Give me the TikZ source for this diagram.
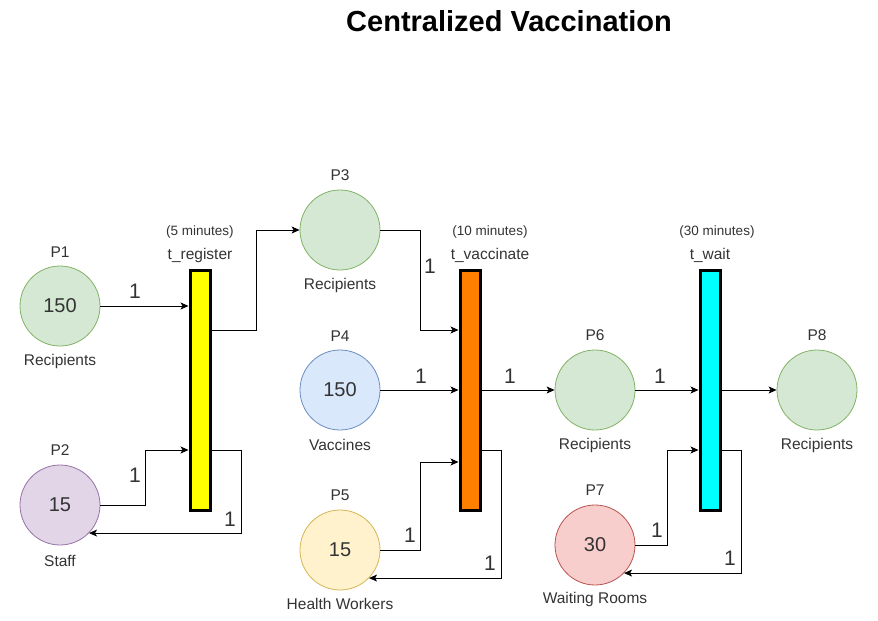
\documentclass[tikz,border=0pt]{standalone}
\usepackage{fontspec}
\setmainfont{Liberation Sans}
\usetikzlibrary{arrows.meta}

\definecolor{grnfill}{HTML}{D5E8D4}
\definecolor{grnline}{HTML}{82B366}
\definecolor{purfill}{HTML}{E1D5E7}
\definecolor{purline}{HTML}{9673A6}
\definecolor{blufill}{HTML}{DAE8FC}
\definecolor{bluline}{HTML}{6C8EBF}
\definecolor{ylwfill}{HTML}{FFF2CC}
\definecolor{ylwline}{HTML}{D6B656}
\definecolor{redfill}{HTML}{F8CECC}
\definecolor{redline}{HTML}{B85450}
\definecolor{txtgray}{HTML}{333333}
\definecolor{regfill}{HTML}{FFFF00}
\definecolor{vacfill}{HTML}{FF8000}
\definecolor{waitfill}{HTML}{00FFFF}

\begin{document}
\begin{tikzpicture}[x=1pt, y=-1pt,
    place/.style={circle, draw, line width=0.8pt, minimum size=80pt, inner sep=0pt,
      text=txtgray, font=\fontsize{20}{24}\selectfont},
    trans/.style={rectangle, draw=black, line width=3pt, minimum width=20pt,
      minimum height=240pt, inner sep=0pt},
    lbl/.style={text=txtgray, inner sep=0pt, font=\fontsize{15.5}{18}\selectfont},
    dur/.style={text=txtgray, inner sep=0pt, font=\fontsize{13.5}{15}\selectfont},
    wgt/.style={text=txtgray, inner sep=0pt, font=\fontsize{21}{24}\selectfont},
    arc/.style={-{Stealth[length=8pt, width=7pt, inset=2pt]}, line width=0.8pt}]
  \useasboundingbox (0,0) rectangle (878,621);

  \node[font=\bfseries\fontsize{29}{34}\selectfont] (title) at (509,21) {Centralized Vaccination};

  % places
  \node[place, fill=grnfill, draw=grnline] (p1) at (60,306) {150};
  \node[place, fill=purfill, draw=purline] (p2) at (60,505) {15};
  \node[place, fill=grnfill, draw=grnline] (p3) at (340,230) {};
  \node[place, fill=blufill, draw=bluline] (p4) at (340,390) {150};
  \node[place, fill=ylwfill, draw=ylwline] (p5) at (340,550) {15};
  \node[place, fill=grnfill, draw=grnline] (p6) at (595,390) {};
  \node[place, fill=redfill, draw=redline] (p7) at (595,545) {30};
  \node[place, fill=grnfill, draw=grnline] (p8) at (817,390) {};

  \node[lbl] (p1name) at (60,252) {P1};
  \node[lbl] (p1text) at (60,361) {Recipients};
  \node[lbl] (p2name) at (60,450) {P2};
  \node[lbl] (p2text) at (60,561) {Staff};
  \node[lbl] (p3name) at (340,175) {P3};
  \node[lbl] (p3text) at (340,285) {Recipients};
  \node[lbl] (p4name) at (340,336) {P4};
  \node[lbl] (p4text) at (340,445) {Vaccines};
  \node[lbl] (p5name) at (340,495) {P5};
  \node[lbl] (p5text) at (340,604) {Health Workers};
  \node[lbl] (p6name) at (595,335) {P6};
  \node[lbl] (p6text) at (595,445) {Recipients};
  \node[lbl] (p7name) at (595,490) {P7};
  \node[lbl] (p7text) at (595,599) {Waiting Rooms};
  \node[lbl] (p8name) at (817,335) {P8};
  \node[lbl] (p8text) at (817,445) {Recipients};

  % transitions
  \node[trans, fill=regfill] (treg) at (200,390) {};
  \node[trans, fill=vacfill] (tvac) at (470,390) {};
  \node[trans, fill=waitfill] (twait) at (710,390) {};

  \node[dur] (tregdur) at (200,232) {(5 minutes)};
  \node[lbl] (tregname) at (200,255) {t\_register};
  \node[dur] (tvacdur) at (490,232) {(10 minutes)};
  \node[lbl] (tvacname) at (490,255) {t\_vaccinate};
  \node[dur] (twaitdur) at (717,232) {(30 minutes)};
  \node[lbl] (twaitname) at (710,255) {t\_wait};

  % arcs of t_register
  \draw[arc] (p1.east) -- (p1.east -| treg.west);
  \draw[arc] (treg.east |- 0,330) -- ++(45,0) |- (p3.west);
  \draw[arc] (p2.east) -- ++(45,0) |- (treg.west |- 0,450);
  \draw[arc] (treg.east |- 0,450) -- ++(30,0) |- (p2.-44);

  % arcs of t_vaccinate
  \draw[arc] (p3.east) -- ++(40,0) |- (tvac.west |- 0,330);
  \draw[arc] (p4.east) -- (p4.east -| tvac.west);
  \draw[arc] (p5.east) -- ++(40,0) |- (tvac.west |- 0,462);
  \draw[arc] (tvac.east |- 0,450) -- ++(20,0) |- (p5.-44);
  \draw[arc] (tvac.east |- p6.west) -- (p6.west);

  % arcs of t_wait
  \draw[arc] (p6.east) -- (p6.east -| twait.west);
  \draw[arc] (p7.east) -- ++(32,0) |- (twait.west |- 0,450);
  \draw[arc] (twait.east |- 0,450) -- ++(20,0) |- (p7.-44);
  \draw[arc] (twait.east |- p8.west) -- (p8.west);

  % weights
  \node[wgt] (w1) at (135,291) {1};
  \node[wgt] (w2) at (135,475) {1};
  \node[wgt] (w3) at (230,519) {1};
  \node[wgt] (w4) at (430,266) {1};
  \node[wgt] (w5) at (421,376) {1};
  \node[wgt] (w6) at (510,376) {1};
  \node[wgt] (w7) at (410,535) {1};
  \node[wgt] (w8) at (490,563) {1};
  \node[wgt] (w9) at (660,376) {1};
  \node[wgt] (w10) at (657,530) {1};
  \node[wgt] (w11) at (730,558) {1};
\end{tikzpicture}
\end{document}
